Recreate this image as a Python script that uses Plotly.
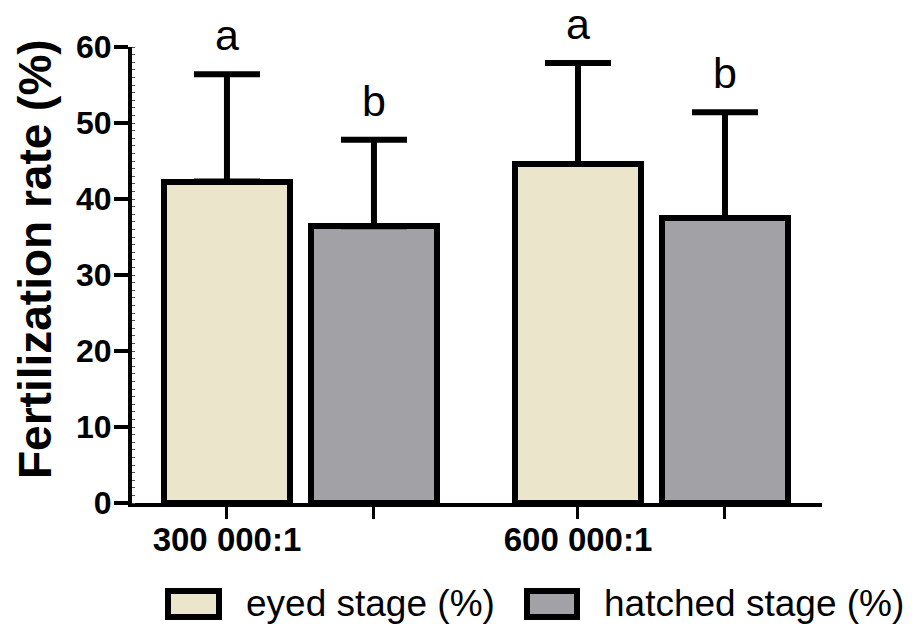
import plotly.graph_objects as go

# ---- data ----
groups = ["300 000:1", "600 000:1"]
series_names = ["eyed stage (%)", "hatched stage (%)"]
eyed_mean = [42.3, 44.6]
eyed_sd = [14.1, 13.3]
hatched_mean = [36.4, 37.5]
hatched_sd = [11.4, 13.9]
eyed_letters = ["a", "a"]
hatched_letters = ["b", "b"]
y_ticks = [0, 10, 20, 30, 40, 50, 60]

# ---- style ----
FONT = "Liberation Sans, Arial, sans-serif"
EYED_COLOR = "#EBE6CB"
HATCHED_COLOR = "#A2A1A6"
GROUP_STEP = 2.388
BAR_STEP = 1.0
BAR_WIDTH = 0.857

# plot-area pixel box
L, R, T, B = 132, 822, 47, 503
W, H = 924, 624


def px_x(px):
    return (px - L) / (R - L)


def px_y(py):
    return (B - py) / (B - T)


eyed_x = [g * GROUP_STEP for g in range(len(groups))]
hatched_x = [g * GROUP_STEP + BAR_STEP for g in range(len(groups))]

fig = go.Figure()
for xs, means, sds, color, name in [
    (eyed_x, eyed_mean, eyed_sd, EYED_COLOR, series_names[0]),
    (hatched_x, hatched_mean, hatched_sd, HATCHED_COLOR, series_names[1]),
]:
    fig.add_trace(go.Bar(
        x=xs, y=means, name=name, width=BAR_WIDTH,
        marker=dict(color=color, line=dict(color="black", width=6)),
        error_y=dict(type="data", array=sds, symmetric=False, arrayminus=[0] * len(sds),
                     color="black", thickness=6, width=33),
        showlegend=False,
    ))

annotations = []
for xs, means, sds, letters in [
    (eyed_x, eyed_mean, eyed_sd, eyed_letters),
    (hatched_x, hatched_mean, hatched_sd, hatched_letters),
]:
    for x, m, s, t in zip(xs, means, sds, letters):
        annotations.append(dict(
            x=x, y=m + s, xref="x", yref="y", text=t, showarrow=False,
            yanchor="bottom", yshift=14, borderpad=0,
            font=dict(family=FONT, size=43, color="black"),
        ))

# y axis title
annotations.append(dict(
    x=px_x(35), y=px_y(259), xref="paper", yref="paper",
    text="Fertilization rate (%)", textangle=-90, showarrow=False,
    xanchor="center", yanchor="middle",
    font=dict(family=FONT, size=46, color="black", weight="bold"),
))

# custom legend
shapes = []
legend_items = [
    (series_names[0], EYED_COLOR, 168, 219, 245),
    (series_names[1], HATCHED_COLOR, 527, 577, 603),
]
for name, color, bx0, bx1, tx in legend_items:
    shapes.append(dict(
        type="rect", xref="paper", yref="paper",
        x0=px_x(bx0), x1=px_x(bx1), y0=px_y(617), y1=px_y(591),
        line=dict(color="black", width=6), fillcolor=color,
    ))
    annotations.append(dict(
        x=px_x(tx), y=px_y(603), xref="paper", yref="paper", text=name,
        showarrow=False, xanchor="left", yanchor="middle", borderpad=0,
        font=dict(family=FONT, size=37, color="black"),
    ))

tick_vals = []
tick_text = []
for g, name in enumerate(groups):
    tick_vals += [eyed_x[g], hatched_x[g]]
    tick_text += [name, ""]

fig.update_layout(
    width=W, height=H,
    margin=dict(l=L, r=W - R, t=T, b=H - B, pad=0),
    plot_bgcolor="white", paper_bgcolor="white",
    bargap=0, barmode="overlay",
    annotations=annotations, shapes=shapes,
    xaxis=dict(
        range=[-0.646, 4.048], tickmode="array", tickvals=tick_vals, ticktext=tick_text,
        showline=True, linecolor="black", linewidth=4, ticks="outside", ticklen=12,
        tickwidth=3, tickcolor="black", showgrid=False, zeroline=False,
        ticklabelstandoff=-8,
        tickfont=dict(family=FONT, size=33, color="black", weight="bold"),
    ),
    yaxis=dict(
        range=[0, 60], tickmode="array", tickvals=y_ticks,
        showline=True, linecolor="black", linewidth=4, ticks="outside", ticklen=14,
        tickwidth=4, tickcolor="black", showgrid=False, zeroline=False,
        ticklabelstandoff=-4,
        tickfont=dict(family=FONT, size=32, color="black", weight="bold"),
        minor=dict(ticks="inside", ticklen=3, tickwidth=1, tickcolor="#555", dtick=1),
    ),
)

fig.write_html("out.html")
